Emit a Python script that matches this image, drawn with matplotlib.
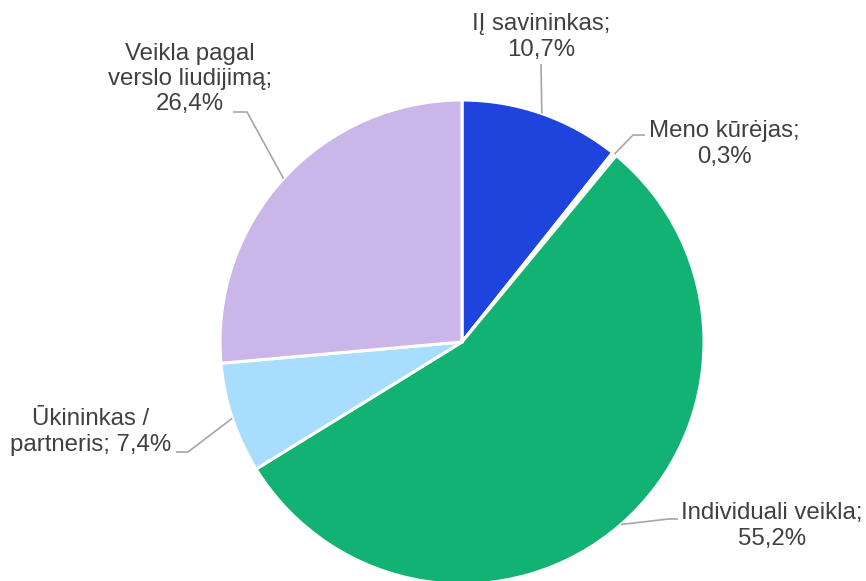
import matplotlib.pyplot as plt
import numpy as np

plt.rcParams['font.family'] = ['Liberation Sans', 'DejaVu Sans']

labels = ['IĮ savininkas;\n10,7%', 'Meno kūrėjas;\n0,3%', 'Individuali veikla;\n55,2%',
          'Ūkininkas /\npartneris; 7,4%', 'Veikla pagal\nverslo liudijimą;\n26,4%']
values = [10.7, 0.3, 55.2, 7.4, 26.4]
colors = ['#1F44DD', '#FFFFFF', '#12B273', '#A8DDFD', '#CBB6EA']

# label text position, elbow point, line end (pixels, y down)
label_pos = [(541, 37), (724, 144), (772, 526), (91, 432), (190, 79)]
elbows = [None, (633, 135), (668, 519), (188, 452), (247, 112)]
line_ends = [(541, 64), (645, 135), (678, 519), (176, 452), (233, 112)]

W, H = 866, 581
cx, cy, r = 462, 342, 242

fig = plt.figure(figsize=(W / 100, H / 100), dpi=100)
ax = fig.add_axes([0, 0, 1, 1])
ax.axis('off')

wedges, _ = ax.pie(values, colors=colors, startangle=90, counterclock=False,
                   center=(cx, H - cy), radius=r,
                   wedgeprops=dict(edgecolor='white', linewidth=2.2))
ax.set_xlim(0, W)
ax.set_ylim(0, H)
ax.set_aspect('equal')

for w, lab, lp, el, le in zip(wedges, labels, label_pos, elbows, line_ends):
    mid = np.deg2rad((w.theta1 + w.theta2) / 2)
    x0 = cx + r * np.cos(mid)
    y0 = (H - cy) + r * np.sin(mid)
    xs = [x0]
    ys = [y0]
    if el is not None:
        xs.append(el[0])
        ys.append(H - el[1])
    xs.append(le[0])
    ys.append(H - le[1])
    ax.plot(xs, ys, color='#A6A6A6', lw=1.2, solid_capstyle='butt')
    ax.text(lp[0], H - lp[1], lab, ha='center', va='center', fontsize=17.3,
            color='#404040', linespacing=1.2)

fig.savefig('out.png', dpi=100)
